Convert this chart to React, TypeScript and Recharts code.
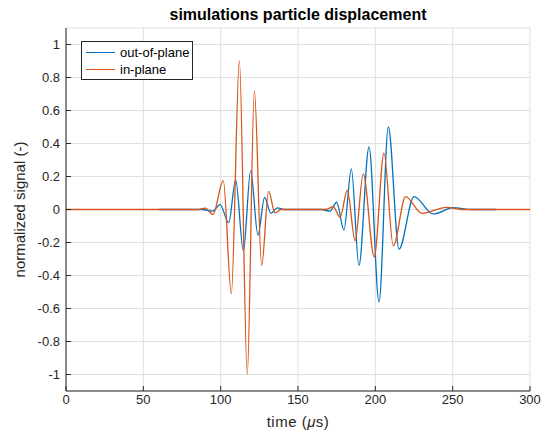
import React from 'react';
import { LineChart, Line, XAxis, YAxis, CartesianGrid } from 'recharts';

// time (µs) and normalized amplitude
const outTime = [60, 88, 94.8, 99.6, 105.2, 109.7, 114.7, 119.4, 124.1, 128.4, 132.5, 136.6, 141, 165, 170.7, 175, 179.7, 184.5, 189.4, 195.9, 202.4, 208.4, 215.3, 225, 237.5, 250.4, 262, 278];
const outValues = [0, 0, -0.01, 0.03, -0.08, 0.18, -0.25, 0.236, -0.155, 0.074, -0.023, 0.01, 0, 0, -0.01, 0.044, -0.125, 0.246, -0.34, 0.38, -0.56, 0.5, -0.24, 0.078, -0.027, 0.011, 0, 0];

const inTime = [0, 85, 90, 95, 101.7, 106.9, 112.1, 117.2, 121.8, 126.5, 131, 135.1, 139, 168, 172.8, 177.2, 181.9, 186.9, 192.2, 199.3, 205.6, 211.6, 219.6, 230, 246.1, 256, 300];
const inValues = [0, 0, 0.008, -0.03, 0.175, -0.51, 0.9, -1.0, 0.72, -0.34, 0.11, -0.02, 0, 0, 0.017, -0.047, 0.118, -0.19, 0.216, -0.287, 0.342, -0.22, 0.078, -0.023, 0.013, 0, 0];

const xTicks = [0, 50, 100, 150, 200, 250, 300];
const yTicks = [-1, -0.8, -0.6, -0.4, -0.2, 0, 0.2, 0.4, 0.6, 0.8, 1];

const seriesNames = ['out-of-plane', 'in-plane'];
const seriesColors = ['#0072BD', '#D95319'];

const outData = outTime.map((t, i) => ({ t, v: outValues[i] }));
const inData = inTime.map((t, i) => ({ t, v: inValues[i] }));

const FONT = '"Liberation Sans", Arial, Helvetica, sans-serif';
const AXIS = '#262626';
const TEXT = '#262626';

const fmtY = (v: number) => String(Math.round(v * 10) / 10);
const blank = () => '';

// legend drawn as an overlay so Recharts doesn't reserve room for it
const LegendBox = () => (
  <div
    style={{
      position: 'absolute',
      top: 41,
      left: 81,
      boxSizing: 'border-box',
      width: 112,
      height: 39,
      background: '#fff',
      border: '1px solid #262626',
      padding: '2px 0',
      fontSize: 13,
      color: '#000',
    }}
  >
    {seriesNames.map((name, i) => (
      <div key={name} style={{ display: 'flex', alignItems: 'center', height: 17 }}>
        <div style={{ width: 29, height: 0, borderTop: `1.3px solid ${seriesColors[i]}`, marginLeft: 4, marginRight: 5 }} />
        <span>{name}</span>
      </div>
    ))}
  </div>
);

const XLabel = (props: any) => {
  const { viewBox } = props;
  const cx = viewBox.x + viewBox.width / 2;
  return (
    <text
      x={cx}
      y={viewBox.y + 36}
      textAnchor="middle"
      fill={TEXT}
      fontSize={15}
      letterSpacing={0.5}
      fontFamily={FONT}
    >
      time (<tspan fontStyle="italic">μ</tspan>s)
    </text>
  );
};

export default function App() {
  return (
    <div style={{ position: 'relative', width: 546, height: 443, background: '#fff', fontFamily: FONT }}>
      <style>{'body{margin:0}'}</style>
      <div
        style={{
          position: 'absolute',
          top: 6,
          left: 66,
          width: 464,
          textAlign: 'center',
          fontWeight: 'bold',
          fontSize: 16,
          color: '#000',
        }}
      >
        simulations particle displacement
      </div>
      <LineChart width={546} height={443} margin={{ top: 28, right: 16, left: 0, bottom: 0 }}>
        <CartesianGrid stroke="#dfdfdf" strokeWidth={1} />
        <XAxis
          dataKey="t"
          type="number"
          domain={[0, 300]}
          ticks={xTicks}
          height={52}
          stroke={AXIS}
          tickSize={-5}
          tickMargin={9}
          tick={{ fill: TEXT, fontSize: 13, fontFamily: FONT }}
          allowDuplicatedCategory={false}
          label={<XLabel />}
        />
        <XAxis
          xAxisId="top"
          orientation="top"
          type="number"
          domain={[0, 300]}
          ticks={xTicks}
          height={0}
          stroke={AXIS}
          tickSize={-5}
          tickFormatter={blank}
        />
        <YAxis
          type="number"
          domain={[-1.1, 1.1]}
          ticks={yTicks}
          width={66}
          stroke={AXIS}
          tickSize={-5}
          tickMargin={11}
          tickFormatter={fmtY}
          tick={{ fill: TEXT, fontSize: 13, fontFamily: FONT }}
          label={{
            value: 'normalized signal (-)',
            angle: -90,
            position: 'center',
            dx: -13,
            fill: TEXT,
            fontSize: 15,
            fontFamily: FONT,
          }}
        />
        <YAxis
          yAxisId="right"
          orientation="right"
          type="number"
          domain={[-1.1, 1.1]}
          ticks={yTicks}
          width={0}
          stroke={AXIS}
          tickSize={-5}
          tickFormatter={blank}
        />
        <Line
          data={outData}
          dataKey="v"
          name={seriesNames[0]}
          type="monotone"
          stroke={seriesColors[0]}
          strokeWidth={1.3}
          dot={false}
          activeDot={false}
          isAnimationActive={false}
        />
        <Line
          data={inData}
          dataKey="v"
          name={seriesNames[1]}
          type="monotone"
          stroke={seriesColors[1]}
          strokeWidth={1.3}
          dot={false}
          activeDot={false}
          isAnimationActive={false}
        />
      </LineChart>
      <LegendBox />
    </div>
  );
}
